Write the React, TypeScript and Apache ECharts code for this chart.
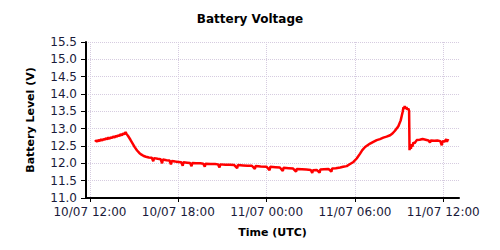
import React, { useEffect, useRef } from "react";
import * as echarts from "echarts";

// Hours since 10/07 00:00 UTC
const hours: number[] = [
  12.35, 12.42, 12.5, 12.58, 12.66, 12.75, 12.83, 12.92, 13.0, 13.08, 13.17, 13.25, 13.33, 13.42, 13.5,
  13.58, 13.67, 13.75, 13.83, 13.92, 14.0, 14.08, 14.17, 14.25, 14.33, 14.42, 14.48,
  14.6, 14.75, 14.9, 15.05, 15.2, 15.35, 15.5, 15.65, 15.8, 16.0, 16.2, 16.3, 16.35, 16.6, 16.8, 16.9,
  16.95, 17.2, 17.4, 17.5, 17.55, 17.8, 18.0, 18.2, 18.3, 18.35, 18.6, 18.8, 18.9, 18.95, 19.2, 19.5,
  19.7, 19.8, 19.85, 20.2, 20.5, 20.7, 20.8, 20.85, 21.2, 21.5, 21.8, 22.0, 22.05, 22.4, 22.7, 23.0,
  23.2, 23.25, 23.6, 24.0, 24.2, 24.25, 24.6, 24.9, 25.1, 25.15, 25.5, 25.8, 26.0, 26.05, 26.4, 26.7,
  27.0, 27.1, 27.15, 27.4, 27.6, 27.65, 27.9, 28.2, 28.4, 28.45, 28.7, 29.0, 29.2, 29.44, 29.67, 29.9,
  30.12, 30.35, 30.5, 30.69, 31.03, 31.25, 31.48, 31.7, 31.93, 32.15, 32.39, 32.55, 32.72, 32.95, 33.11,
  33.24, 33.3, 33.34, 33.38, 33.45, 33.5, 33.56, 33.62, 33.68, 33.71, 33.75, 33.8, 33.85, 33.9, 33.97,
  34.05, 34.2, 34.4, 34.6, 34.8, 35.0, 35.1, 35.15, 35.4, 35.6, 35.8, 35.9, 35.95, 36.1, 36.2, 36.25,
  36.3, 36.35,
];

const voltage: number[] = [
  12.62, 12.66, 12.63, 12.67, 12.65, 12.69, 12.66, 12.7, 12.68, 12.72, 12.7, 12.74, 12.71, 12.75, 12.73,
  12.77, 12.75, 12.79, 12.77, 12.81, 12.79, 12.84, 12.81, 12.86, 12.84, 12.9, 12.85,
  12.78, 12.68, 12.57, 12.46, 12.37, 12.3, 12.25, 12.21, 12.19, 12.17, 12.16, 12.06, 12.15, 12.13, 12.12, 12.0,
  12.11, 12.09, 12.08, 11.97, 12.07, 12.05, 12.04, 12.03, 11.93, 12.03, 12.02, 12.01, 11.92, 12.01, 12.0, 12.0,
  11.99, 11.9, 11.99, 11.98, 11.98, 11.97, 11.88, 11.97, 11.96, 11.96, 11.95, 11.86, 11.95, 11.94, 11.93, 11.93,
  11.84, 11.92, 11.91, 11.9, 11.8, 11.9, 11.89, 11.88, 11.78, 11.87, 11.86, 11.85, 11.76, 11.84, 11.83, 11.82,
  11.81, 11.72, 11.8, 11.81, 11.73, 11.82, 11.83, 11.84, 11.76, 11.85, 11.86, 11.88, 11.9, 11.92, 11.98, 12.04,
  12.14, 12.28, 12.38, 12.47, 12.57, 12.62, 12.67, 12.7, 12.74, 12.77, 12.81, 12.86, 12.94, 13.07, 13.24,
  13.48, 13.62, 13.58, 13.65, 13.57, 13.62, 13.55, 13.58, 13.52, 12.38, 12.5, 12.42, 12.55, 12.48, 12.6,
  12.58, 12.67, 12.68, 12.7, 12.68, 12.66, 12.6, 12.66, 12.65, 12.66, 12.64, 12.52, 12.64, 12.63, 12.7, 12.62,
  12.68, 12.65,
];

const xTickHours: number[] = [12, 18, 24, 30, 36];
const yTicks = { min: 11, max: 15.5, interval: 0.5 };
const xRangeHours = { min: 11.73, max: 37.07 };
const titleText = "Battery Voltage";
const yName = "Battery Level (V)";
const xName = "Time (UTC)";

const BASE = Date.UTC(2023, 6, 10, 0, 0, 0);
const FONT = "DejaVu Sans";

const pad = (n: number) => (n < 10 ? "0" + n : "" + n);
const fmt = (h: number) => {
  const d = new Date(BASE + Math.round(h * 60) * 60000);
  return `${pad(d.getUTCDate())}/${pad(d.getUTCMonth() + 1)} ${pad(d.getUTCHours())}:${pad(d.getUTCMinutes())}`;
};

export default function App() {
  const ref = useRef<HTMLDivElement>(null);
  useEffect(() => {
    if (!ref.current) return;
    const chart = echarts.init(ref.current, undefined, { renderer: "svg" });
    const data = hours.map((h, i) => [h, voltage[i]]);
    chart.setOption({
      animation: false,
      backgroundColor: "#fff",
      title: {
        text: titleText,
        left: "center",
        top: 8,
        textStyle: { fontFamily: FONT, fontSize: 12, fontWeight: "bold", color: "#000" },
      },
      grid: { left: 86, right: 41, top: 42, bottom: 52 },
      xAxis: {
        type: "value",
        min: xRangeHours.min,
        max: xRangeHours.max,
        name: xName,
        nameLocation: "middle",
        nameGap: 29,
        nameTextStyle: { fontFamily: FONT, fontSize: 11, fontWeight: "bold", color: "#000" },
        axisLine: { lineStyle: { color: "#000", width: 2 } },
        axisTick: { show: true, length: 4, lineStyle: { color: "#000" }, customValues: xTickHours },
        axisLabel: {
          customValues: xTickHours,
          formatter: (v: number) => fmt(v),
          fontFamily: FONT,
          fontSize: 12,
          color: "#1a1a3a",
          margin: 8,
        },
        splitLine: { show: true, lineStyle: { color: "#d6cce0", type: "dotted", width: 1 } },
      },
      yAxis: {
        type: "value",
        min: yTicks.min,
        max: yTicks.max,
        interval: yTicks.interval,
        name: yName,
        nameLocation: "middle",
        nameGap: 50,
        nameTextStyle: { fontFamily: FONT, fontSize: 11, fontWeight: "bold", color: "#000" },
        axisLine: { show: true, lineStyle: { color: "#000", width: 2 } },
        axisTick: { show: true, length: 5, lineStyle: { color: "#000" } },
        axisLabel: {
          formatter: (v: number) => v.toFixed(1),
          fontFamily: FONT,
          fontSize: 12,
          color: "#1a1a3a",
          margin: 9,
        },
        splitLine: { show: true, lineStyle: { color: "#d6cce0", type: "dotted", width: 1 } },
      },
      series: [
        {
          type: "line",
          data,
          showSymbol: false,
          symbol: "none",
          lineStyle: { color: "#ff0000", width: 2.5 },
          itemStyle: { color: "#ff0000" },
        },
      ],
    });
    return () => chart.dispose();
  }, []);
  return <div ref={ref} style={{ width: 500, height: 250, position: "absolute", left: 0, top: 0 }} />;
}
